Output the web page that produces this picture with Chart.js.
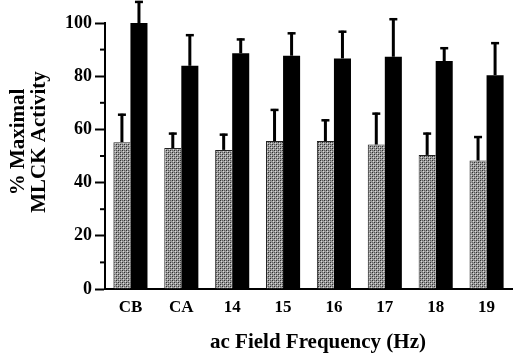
<!DOCTYPE html>
<html>
<head>
<meta charset="utf-8">
<script src="https://cdn.jsdelivr.net/npm/chart.js@4/dist/chart.umd.min.js"></script>
<style>
    body { margin: 0; background: #fff; }
    canvas { display: block; }
</style>
</head>
<body>
<canvas id="mlckChart" width="514" height="355"></canvas>
<script>
const categories = ['CB', 'CA', '14', '15', '16', '17', '18', '19'];
const grayValues = [55.2, 53.0, 52.3, 55.6, 55.6, 54.3, 50.4, 48.3];
const grayErrors = [10.7, 5.8, 6.1, 12.1, 8.2, 12.0, 8.4, 9.2];
const blackValues = [100, 83.9, 88.6, 87.7, 86.7, 87.3, 85.7, 80.4];
const blackErrors = [8.3, 11.9, 5.6, 8.8, 10.4, 14.5, 5.2, 12.4];
const minorTicks = [10, 30, 50, 70, 90];
const yTitle = ['% Maximal', 'MLCK Activity'];
const xTitle = 'ac Field Frequency (Hz)';

const serif = '"Liberation Serif", "Times New Roman", serif';

// stippled grey fill like the printed figure
function makeStipple() {
    const c = document.createElement('canvas');
    c.width = 4;
    c.height = 4;
    const g = c.getContext('2d');
    g.fillStyle = '#9c9c9c';
    g.fillRect(0, 0, 4, 4);
    g.fillStyle = '#2e2e2e';
    g.fillRect(0, 0, 1, 1);
    g.fillRect(2, 2, 1, 1);
    g.fillStyle = '#5e5e5e';
    g.fillRect(2, 0, 1, 1);
    g.fillRect(0, 2, 1, 1);
    g.fillStyle = '#d8d8d8';
    g.fillRect(1, 1, 1, 1);
    g.fillRect(3, 3, 1, 1);
    return g.createPattern(c, 'repeat');
}

const errorBars = {
    id: 'errorBars',
    afterDatasetsDraw(chart) {
        const ctx = chart.ctx;
        const yScale = chart.scales.y;
        const errs = [grayErrors, blackErrors];
        ctx.save();
        ctx.strokeStyle = '#000';
        chart.data.datasets.forEach((ds, di) => {
            const meta = chart.getDatasetMeta(di);
            meta.data.forEach((bar, i) => {
                const top = yScale.getPixelForValue(ds.data[i] + errs[di][i]);
                ctx.lineWidth = 3;
                ctx.beginPath();
                ctx.moveTo(bar.x, bar.y);
                ctx.lineTo(bar.x, top);
                ctx.stroke();
                ctx.lineWidth = 2.5;
                ctx.beginPath();
                ctx.moveTo(bar.x - 4, top + 1);
                ctx.lineTo(bar.x + 4, top + 1);
                ctx.stroke();
            });
        });
        ctx.restore();
    }
};

// short ticks at the odd tens, plus the two axis titles placed like the print
const axisDecor = {
    id: 'axisDecor',
    afterDraw(chart) {
        const ctx = chart.ctx;
        const y = chart.scales.y;
        const x0 = chart.chartArea.left;
        ctx.save();
        ctx.strokeStyle = '#000';
        ctx.lineWidth = 2;
        minorTicks.forEach(v => {
            const py = y.getPixelForValue(v);
            ctx.beginPath();
            ctx.moveTo(x0 - 5, py);
            ctx.lineTo(x0, py);
            ctx.stroke();
        });

        ctx.fillStyle = '#000';
        ctx.font = 'bold 21px ' + serif;
        ctx.textAlign = 'center';
        ctx.textBaseline = 'middle';
        ctx.fillText(xTitle, 318, 343);

        ctx.translate(0, 142);
        ctx.rotate(-Math.PI / 2);
        yTitle.forEach((line, i) => {
            ctx.fillText(line, 0, 19 + i * 20.5);
        });
        ctx.restore();
    }
};

const ctx = document.getElementById('mlckChart').getContext('2d');

new Chart(ctx, {
    type: 'bar',
    data: {
        labels: categories,
        datasets: [{
            data: grayValues,
            backgroundColor: makeStipple(),
            borderColor: '#222',
            borderWidth: {left: 1, top: 1, right: 0, bottom: 0},
            categoryPercentage: 0.67,
            barPercentage: 1.0
        }, {
            data: blackValues,
            backgroundColor: '#000',
            borderWidth: 0,
            categoryPercentage: 0.67,
            barPercentage: 1.0
        }]
    },
    options: {
        responsive: false,
        animation: false,
        devicePixelRatio: 1,
        layout: {
            padding: {top: 23, right: 2, left: 0, bottom: 0}
        },
        plugins: {
            legend: {display: false},
            tooltip: {enabled: false}
        },
        scales: {
            x: {
                afterFit(scale) { scale.height = 66; },
                grid: {display: false, drawTicks: false},
                border: {display: true, color: '#000', width: 2},
                ticks: {
                    color: '#000',
                    padding: 8,
                    font: {family: serif, size: 17, weight: 'bold'}
                }
            },
            y: {
                min: 0,
                max: 100,
                afterFit(scale) { scale.width = 105; },
                grid: {
                    display: true,
                    drawOnChartArea: false,
                    drawTicks: true,
                    tickLength: 10,
                    tickWidth: 2,
                    tickColor: '#000'
                },
                border: {display: true, color: '#000', width: 2},
                ticks: {
                    stepSize: 20,
                    color: '#000',
                    padding: 3,
                    font: {family: serif, size: 18, weight: 'bold'}
                }
            }
        }
    },
    plugins: [errorBars, axisDecor]
});
</script>
</body>
</html>
